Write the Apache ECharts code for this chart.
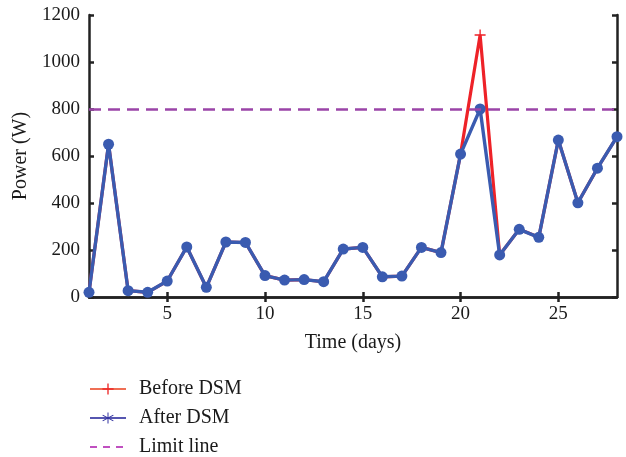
<!DOCTYPE html>
<html>
<head>
<meta charset="utf-8">
<script src="https://cdn.jsdelivr.net/npm/echarts@6/dist/echarts.min.js"></script>
<style>
html,body{margin:0;padding:0;background:#fff;}
#c{width:626px;height:457px;}
</style>
</head>
<body>
<div id="c"></div>
<script>
// ---- data ----
const days = [1,2,3,4,5,6,7,8,9,10,11,12,13,14,15,16,17,18,19,20,21,22,23,24,25,26,27,28];
const afterDSM = [20,650,27,20,68,213,41,234,232,91,72,74,65,204,211,86,89,211,189,608,800,179,288,254,668,401,548,682];
const beforeDSM = [20,650,27,20,68,213,41,234,232,91,72,74,65,204,211,86,89,211,189,608,1115,179,288,254,668,401,548,682];
const limitValue = 800;
const xTicks = [5,10,15,20,25];
const yTicks = [0,200,400,600,800,1000,1200];
const legendNames = ['Before DSM','After DSM','Limit line'];

const FONT = 'Liberation Serif';
const AX = '#222';
const plusPath = 'path://M-0.12,-1L0.12,-1L0.12,-0.12L1,-0.12L1,0.12L0.12,0.12L0.12,1L-0.12,1L-0.12,0.12L-1,0.12L-1,-0.12L-0.12,-0.12Z';
const starPath = 'path://M-0.08,-1L0.08,-1L0.08,1L-0.08,1Z M0.826,0.569L0.906,0.431L-0.826,-0.569L-0.906,-0.431Z M-0.906,0.431L-0.826,0.569L0.906,-0.431L0.826,-0.569Z';

const pair = (arr) => days.map((d, i) => [d, arr[i]]);

const chart = echarts.init(document.getElementById('c'), null, {renderer: 'canvas'});
const xBase = {
  type: 'value', min: 1, max: 28,
  splitLine: {show: false},
  axisLine: {show: true, lineStyle: {color: AX, width: 2.5}},
  axisTick: {show: true, inside: true, length: 5, lineStyle: {color: AX, width: 2.5}, customValues: xTicks},
};
const yBase = {
  type: 'value', min: yTicks[0], max: yTicks[yTicks.length - 1], interval: 200,
  splitLine: {show: false},
  axisLine: {show: true, lineStyle: {color: AX, width: 2.5}},
  axisTick: {show: true, inside: true, length: 5, lineStyle: {color: AX, width: 2.5}},
};
chart.setOption({
  backgroundColor: '#fff',
  animation: false,
  textStyle: {fontFamily: FONT},
  grid: {left: 89, right: 9, top: 15, bottom: 160, containLabel: false, outerBoundsMode: 'none'},
  legend: {
    orient: 'vertical', left: 84, top: 374, height: 120,
    itemWidth: 36, itemHeight: 14, itemGap: 9,
    data: [
      {name: legendNames[0]},
      {name: legendNames[1]},
      {name: legendNames[2], itemStyle: {opacity: 0}},
    ],
    textStyle: {fontFamily: FONT, fontSize: 20, lineHeight: 20, color: '#1a1a1a', padding: [0, 0, 0, 8]},
  },
  xAxis: [
    Object.assign({}, xBase, {
      position: 'bottom',
      name: 'Time (days)', nameLocation: 'middle', nameGap: 36,
      nameTextStyle: {fontFamily: FONT, fontSize: 20, color: '#1a1a1a'},
      axisLabel: {show: true, customValues: xTicks, margin: 8, fontFamily: FONT, fontSize: 19, color: '#1a1a1a'},
    }),
    Object.assign({}, xBase, {position: 'top', axisLabel: {show: false}}),
  ],
  yAxis: [
    Object.assign({}, yBase, {
      position: 'left',
      name: 'Power (W)', nameLocation: 'middle', nameGap: 51,
      nameTextStyle: {fontFamily: FONT, fontSize: 20, color: '#1a1a1a'},
      axisLabel: {show: true, margin: 9, fontFamily: FONT, fontSize: 19, color: '#1a1a1a',
        formatter: (v) => String(v)},
    }),
    Object.assign({}, yBase, {position: 'right', axisLabel: {show: false}}),
  ],
  series: [
    {
      name: 'before', type: 'line', z: 2,
      data: pair(beforeDSM),
      lineStyle: {color: '#ee2228', width: 3.2},
      itemStyle: {color: '#ee2228'},
      symbol: plusPath,
      symbolSize: (v, p) => beforeDSM[p.dataIndex] !== afterDSM[p.dataIndex] ? 11 : 0,
      showAllSymbol: true,
    },
    {
      name: 'after', type: 'line', z: 3,
      data: pair(afterDSM),
      lineStyle: {color: '#3a5bb0', width: 3.4},
      itemStyle: {color: '#3a5bb0'},
      symbol: 'circle', symbolSize: 11, showAllSymbol: true,
      markLine: {
        silent: true, symbol: 'none', z: 4,
        label: {show: false},
        lineStyle: {color: '#9b44a8', width: 2.5, type: [12, 7]},
        data: [{yAxis: limitValue}],
      },
    },
    // legend-only entries
    {
      name: legendNames[0], type: 'line', data: [],
      lineStyle: {color: '#ef6f55', width: 2},
      itemStyle: {color: '#ee2a2a'},
      symbol: plusPath, symbolSize: 12,
    },
    {
      name: legendNames[1], type: 'line', data: [],
      lineStyle: {color: '#5656b0', width: 2},
      itemStyle: {color: '#3030a0'},
      symbol: starPath, symbolSize: 12,
    },
    {
      name: legendNames[2], type: 'line', data: [],
      lineStyle: {color: '#c050c0', width: 2, type: [7, 6]},
      itemStyle: {color: '#c050c0', opacity: 0},
      symbol: 'none',
    },
  ],
});
</script>
</body>
</html>
